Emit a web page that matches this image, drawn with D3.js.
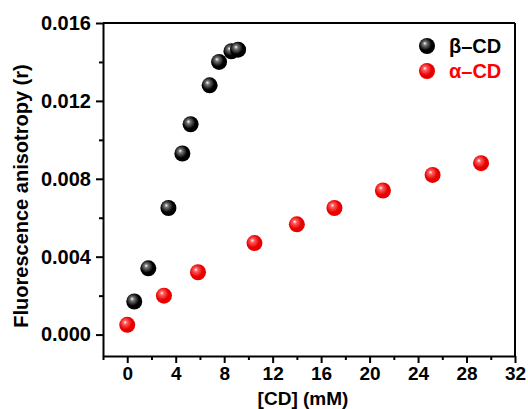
<!DOCTYPE html>
<html>
<head>
<meta charset="utf-8">
<script src="https://d3js.org/d3.v7.min.js"></script>
<style>
  body { margin: 0; background: #fff; }
  text { font-family: "Liberation Sans", Arial, sans-serif; font-weight: bold; }
  .axis path, .axis line { stroke: #000; stroke-width: 2; }
</style>
</head>
<body>
<div id="chart"></div>
<script>
// beta-CD
var betaX = [0.58, 1.74, 3.4, 4.55, 5.23, 6.8, 7.58, 8.6, 9.15];
var betaY = [0.0017, 0.0034, 0.0065, 0.0093, 0.0108, 0.0128, 0.0140, 0.01455, 0.01463];
// alpha-CD
var alphaX = [0, 3.03, 5.84, 10.5, 14.0, 17.1, 21.1, 25.2, 29.2];
var alphaY = [0.0005, 0.0020, 0.0032, 0.0047, 0.00566, 0.0065, 0.0074, 0.0082, 0.0088];
var seriesNames = ["\u03b2\u2013CD", "\u03b1\u2013CD"];
var seriesColors = ["#000", "#f00"];
var xTicks = [0, 4, 8, 12, 16, 20, 24, 28, 32];
var yTicks = [0, 0.004, 0.008, 0.012, 0.016];

var width = 528, height = 409;
var margin = {top: 23, right: 13, bottom: 53, left: 103};

var svg = d3.select("#chart").append("svg")
    .attr("width", width)
    .attr("height", height);

var x = d3.scaleLinear().domain([-2, 32]).range([margin.left, width - margin.right]);
var y = d3.scaleLinear().domain([-0.0011, 0.016]).range([height - margin.bottom, margin.top]);

// sphere gradients
var defs = svg.append("defs");
function sphere(id, dark, mid) {
  var g = defs.append("radialGradient").attr("id", id)
      .attr("cx", "42%").attr("cy", "42%").attr("r", "60%")
      .attr("fx", "36%").attr("fy", "33%");
  g.append("stop").attr("offset", "0%").attr("stop-color", "#fff");
  g.append("stop").attr("offset", "20%").attr("stop-color", mid);
  g.append("stop").attr("offset", "65%").attr("stop-color", dark);
  g.append("stop").attr("offset", "100%").attr("stop-color", dark);
}
sphere("gb", "#000", "#777");
sphere("gr", "#e80000", "#ff6060");
var fills = ["url(#gb)", "url(#gr)"];

// minor ticks
var xMinor = d3.range(-2, 33, 2).filter(function(d) { return d % 4 !== 0; });
var yMinor = [0.002, 0.006, 0.010, 0.014];

svg.append("g").attr("class", "axis")
    .attr("transform", "translate(0," + (height - margin.bottom) + ")")
    .call(d3.axisBottom(x).tickValues(xMinor).tickSize(4).tickFormat(""))
    .select(".domain").remove();
svg.append("g").attr("class", "axis")
    .attr("transform", "translate(" + margin.left + ",0)")
    .call(d3.axisLeft(y).tickValues(yMinor).tickSize(4).tickFormat(""))
    .select(".domain").remove();

var xAxis = svg.append("g").attr("class", "axis")
    .attr("transform", "translate(0," + (height - margin.bottom) + ")")
    .call(d3.axisBottom(x).tickValues(xTicks).tickSize(7).tickSizeOuter(0).tickPadding(4).tickFormat(d3.format("d")));
xAxis.selectAll("text").attr("font-size", 19).attr("fill", "#000");

var yAxis = svg.append("g").attr("class", "axis")
    .attr("transform", "translate(" + margin.left + ",0)")
    .call(d3.axisLeft(y).tickValues(yTicks).tickSize(7).tickSizeOuter(0).tickPadding(5).tickFormat(d3.format(".3f")));
yAxis.selectAll("text").attr("font-size", 20).attr("fill", "#000");

// top and right frame
svg.append("line").attr("x1", margin.left).attr("x2", width - margin.right)
    .attr("y1", margin.top).attr("y2", margin.top).attr("stroke", "#000").attr("stroke-width", 2);
svg.append("line").attr("x1", width - margin.right).attr("x2", width - margin.right)
    .attr("y1", margin.top).attr("y2", height - margin.bottom).attr("stroke", "#000").attr("stroke-width", 2);

// axis titles
svg.append("text")
    .attr("x", 303)
    .attr("y", 405)
    .attr("text-anchor", "middle")
    .attr("font-size", 19)
    .text("[CD] (mM)");
svg.append("text")
    .attr("transform", "translate(28," + 196 + ") rotate(-90)")
    .attr("text-anchor", "middle")
    .attr("font-size", 20)
    .text("Fluorescence anisotropy (r)");

// points
var series = [d3.zip(betaX, betaY), d3.zip(alphaX, alphaY)];
series.forEach(function(pts, i) {
  svg.append("g").selectAll("circle")
      .data(pts)
    .enter().append("circle")
      .attr("cx", function(d) { return x(d[0]); })
      .attr("cy", function(d) { return y(d[1]); })
      .attr("r", 8)
      .attr("fill", fills[i]);
});

// legend
var legend = svg.append("g").selectAll("g")
    .data(seriesNames)
  .enter().append("g")
    .attr("transform", function(d, i) { return "translate(427," + (46 + i * 25) + ")"; });
legend.append("circle").attr("r", 8).attr("fill", function(d, i) { return fills[i]; });
legend.append("text")
    .attr("x", 22).attr("dy", "0.35em")
    .attr("font-size", 20)
    .attr("fill", function(d, i) { return seriesColors[i]; })
    .text(function(d) { return d; });
</script>
</body>
</html>
